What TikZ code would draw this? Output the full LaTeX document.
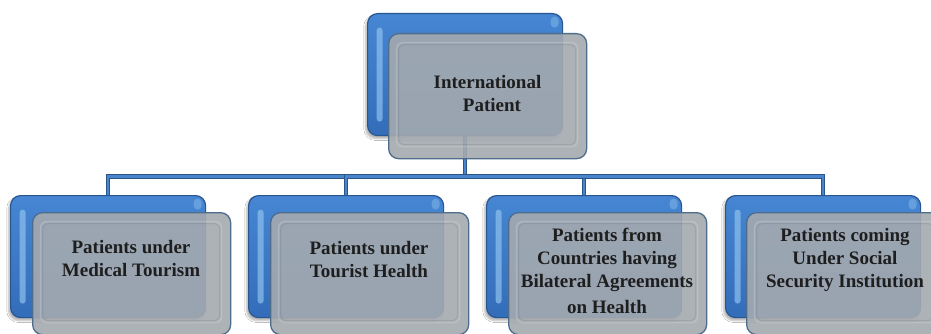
\documentclass[tikz,border=0pt]{standalone}
\usepackage{fontspec}
\setmainfont{Liberation Serif}
\usetikzlibrary{backgrounds,shadows.blur}
\definecolor{bluefillA}{HTML}{4686D2}
\definecolor{bluefillB}{HTML}{336DBA}
\definecolor{blueedge}{HTML}{2A5690}
\definecolor{bluehi}{HTML}{8EC1EE}
\definecolor{grayfill}{HTML}{A5AAB0}
\definecolor{grayedge}{HTML}{4E6C8C}
\definecolor{connfill}{HTML}{4A84CA}
\definecolor{connedge}{HTML}{2B5487}
\definecolor{txt}{HTML}{1E1E1E}
\tikzset{
  bluebox/.style={draw=blueedge, line width=1.2pt, rounded corners=10pt,
    top color=bluefillA, bottom color=bluefillB,
    minimum width=195pt, minimum height=122pt, anchor=north west, inner sep=0pt,
    blur shadow={shadow blur steps=6, shadow xshift=-2pt, shadow yshift=-3pt, shadow opacity=30},
    path picture={
      \fill[bluehi, opacity=.7, rounded corners=3pt]
        ([xshift=9pt,yshift=-14pt]path picture bounding box.north west)
        rectangle ([xshift=15pt,yshift=14pt]path picture bounding box.south west);
      \fill[bluehi, opacity=.45, rounded corners=4pt]
        ([xshift=-12pt,yshift=-3pt]path picture bounding box.north east)
        rectangle ([xshift=-4pt,yshift=-14pt]path picture bounding box.north east);
    }},
  graybox/.style={draw=grayedge, line width=1.3pt, rounded corners=10pt,
    fill=grayfill, fill opacity=.9,
    minimum width=198pt, minimum height=122pt, anchor=north west, inner sep=0pt,
    path picture={
      \draw[white, opacity=.18, line width=1.4pt, rounded corners=6pt]
        ([xshift=8pt,yshift=-9pt]path picture bounding box.north west)
        rectangle ([xshift=-9pt,yshift=12pt]path picture bounding box.south east);
      \draw[black, opacity=.08, line width=1pt, rounded corners=6pt]
        ([xshift=10pt,yshift=-11pt]path picture bounding box.north west)
        rectangle ([xshift=-11pt,yshift=14pt]path picture bounding box.south east);
    }},
  boxtext/.style={text=txt, align=center, inner sep=0pt,
    font=\bfseries\fontsize{19}{23}\selectfont},
  conn/.style={draw=connedge, line width=1.1pt, double=connfill, double distance=2.4pt}
}
\begin{document}
\begin{tikzpicture}[x=1pt, y=-1pt]
\useasboundingbox (0,0) rectangle (931,334);

% top level
\node[bluebox] (b0) at (367,13) {};
\node[graybox, minimum height=125pt] (g0) at (388,33) {};
\node[boxtext] (t0) at (487.5,94) {International\\\hspace*{9pt}Patient};

% second level
\node[bluebox] (b1) at (10,195) {};
\node[bluebox] (b2) at (248,195) {};
\node[bluebox] (b3) at (486,195) {};
\node[bluebox] (b4) at (725,195) {};
\node[graybox] (g1) at (32,212) {};
\node[graybox] (g2) at (270,212) {};
\node[graybox] (g3) at (508,212) {};
\node[graybox] (g4) at (746,212) {};
\node[boxtext] (t1) at (131,259) {Patients under\\Medical Tourism};
\node[boxtext] (t2) at (369,260) {Patients under\\Tourist Health};
\node[boxtext] (t3) at (607,271) {Patients from\\Countries having\\Bilateral Agreements\\[3pt]on Health};
\node[boxtext] (t4) at (845,260) {Patients coming\\Under Social\\Security Institution};

% white page and connectors, both behind the boxes
\coordinate (bus) at (0,176.5);
\begin{pgfonlayer}{background}
  \fill[white] (0,0) rectangle (931,334);
  \draw[conn] (b0.south) -- (b0.south |- bus) -| (b1.north);
  \draw[conn] (b0.south |- bus) -| (b2.north);
  \draw[conn] (b0.south |- bus) -| (b3.north);
  \draw[conn] (b0.south |- bus) -| (b4.north);
\end{pgfonlayer}
\end{tikzpicture}
\end{document}
